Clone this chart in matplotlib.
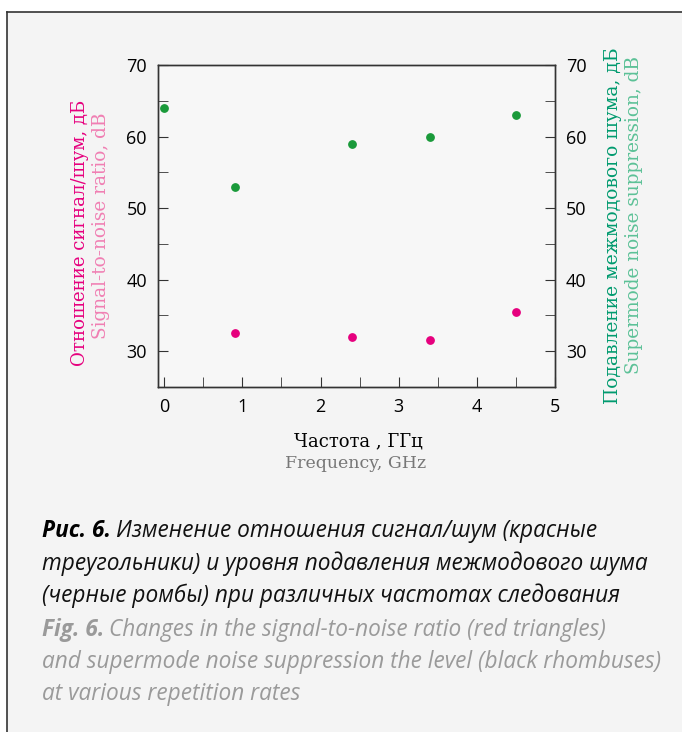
import matplotlib.pyplot as plt
from matplotlib.ticker import MultipleLocator
from matplotlib.lines import Line2D
from matplotlib.patches import Rectangle

# data
freq_snr = [0.9, 2.4, 3.4, 4.5]
snr = [32.5, 32.0, 31.5, 35.5]
freq_sup = [0.0, 0.9, 2.4, 3.4, 4.5]
suppression = [64, 53, 59, 60, 63]

pink = '#e6007e'
pink_light = '#f07fb3'
green = '#1a9a3a'
teal = '#009a6e'
teal_light = '#5cc197'

fig = plt.figure(figsize=(6.82, 7.32), dpi=100)
W, H = 682, 732

# grey panel with top/left rule
fig.patches.append(Rectangle((7 / W, 0), 1, 1 - 12 / H, transform=fig.transFigure,
                             facecolor='#f4f4f4', edgecolor='none', zorder=-10))
fig.lines.append(Line2D([7 / W, 7 / W], [0, 1 - 12 / H], transform=fig.transFigure,
                        color='#333333', lw=1.2))
fig.lines.append(Line2D([7 / W, 1], [1 - 12 / H, 1 - 12 / H], transform=fig.transFigure,
                        color='#333333', lw=1.2))

ax = fig.add_axes([158 / W, 1 - 387 / H, (555 - 158) / W, (387 - 65) / H])
ax.set_facecolor('#f7f7f7')
ax2 = ax.twinx()

ax.scatter(freq_snr, snr, s=28, color=pink, zorder=3)
ax2.scatter(freq_sup, suppression, s=28, color=green, zorder=3)

for a in (ax, ax2):
    a.set_ylim(25, 70)
    a.set_xlim(-0.08, 5)
    a.yaxis.set_major_locator(MultipleLocator(10))
    a.yaxis.set_minor_locator(MultipleLocator(5))
    for s in a.spines.values():
        s.set_color('#333333')
        s.set_linewidth(1.0)

ax.xaxis.set_major_locator(MultipleLocator(1))
ax.xaxis.set_minor_locator(MultipleLocator(0.5))
ax.tick_params(axis='both', which='both', direction='in', labelsize=13,
               colors='#333333', labelcolor='black', top=False)
ax.tick_params(axis='y', which='major', length=7, pad=8)
ax.tick_params(axis='y', which='minor', length=7)
ax.tick_params(axis='x', which='major', length=7, pad=8)
ax.tick_params(axis='x', which='minor', length=7)
ax2.tick_params(axis='y', which='both', direction='in', labelsize=13,
                colors='#333333', labelcolor='black', length=7, pad=8)

for lab in ax.get_xticklabels() + ax.get_yticklabels() + ax2.get_yticklabels():
    lab.set_fontfamily('Open Sans')

# axis titles
fig.text(80 / W, 1 - 233 / H, 'Отношение сигнал/шум, дБ', rotation=90,
         ha='center', va='center', color=pink, fontsize=13.1, family='DejaVu Serif')
fig.text(101 / W, 1 - 226 / H, 'Signal-to-noise ratio, dB', rotation=90,
         ha='center', va='center', color=pink_light, fontsize=13.3, family='DejaVu Serif')
fig.text(613 / W, 1 - 226 / H, 'Подавление межмодового шума, дБ', rotation=90,
         ha='center', va='center', color=teal, fontsize=13.5, family='DejaVu Serif')
fig.text(634 / W, 1 - 215 / H, 'Supermode noise suppression, dB', rotation=90,
         ha='center', va='center', color=teal_light, fontsize=13.3, family='DejaVu Serif')

fig.text(358 / W, 1 - 441 / H, 'Частота , ГГц', ha='center', va='center',
         color='black', fontsize=13, family='DejaVu Serif')
fig.text(356 / W, 1 - 464 / H, 'Frequency, GHz', ha='center', va='center',
         color='#777777', fontsize=12.5, family='DejaVu Serif')

# caption
caption_ru = ['Изменение отношения сигнал/шум (красные',
              'треугольники) и уровня подавления межмодового шума',
              '(черные ромбы) при различных частотах следования']
caption_en = ['Changes in the signal-to-noise ratio (red triangles)',
              'and supermode noise suppression the level (black rhombuses)',
              'at various repetition rates']
cap_kw = dict(fontsize=16.3, family='Open Sans', style='italic', va='baseline')
x0 = 42 / W
base = [537, 570, 602, 636, 668, 700]

fig.canvas.draw()
r = fig.canvas.get_renderer()
t = fig.text(x0, 1 - base[0] / H, 'Рис. 6.', weight='bold', color='black', **cap_kw)
w = t.get_window_extent(r).width
fig.text(x0 + (w + 5) / W, 1 - base[0] / H, caption_ru[0], color='#111111', **cap_kw)
fig.text(x0, 1 - base[1] / H, caption_ru[1], color='#111111', **cap_kw)
fig.text(x0, 1 - base[2] / H, caption_ru[2], color='#111111', **cap_kw)
t = fig.text(x0, 1 - base[3] / H, 'Fig. 6.', weight='bold', color='#9a9a9a', **cap_kw)
w = t.get_window_extent(r).width
fig.text(x0 + (w + 5) / W, 1 - base[3] / H, caption_en[0], color='#9a9a9a', **cap_kw)
fig.text(x0, 1 - base[4] / H, caption_en[1], color='#9a9a9a', **cap_kw)
fig.text(x0, 1 - base[5] / H, caption_en[2], color='#9a9a9a', **cap_kw)

fig.savefig('out.png', dpi=100, facecolor='white')
